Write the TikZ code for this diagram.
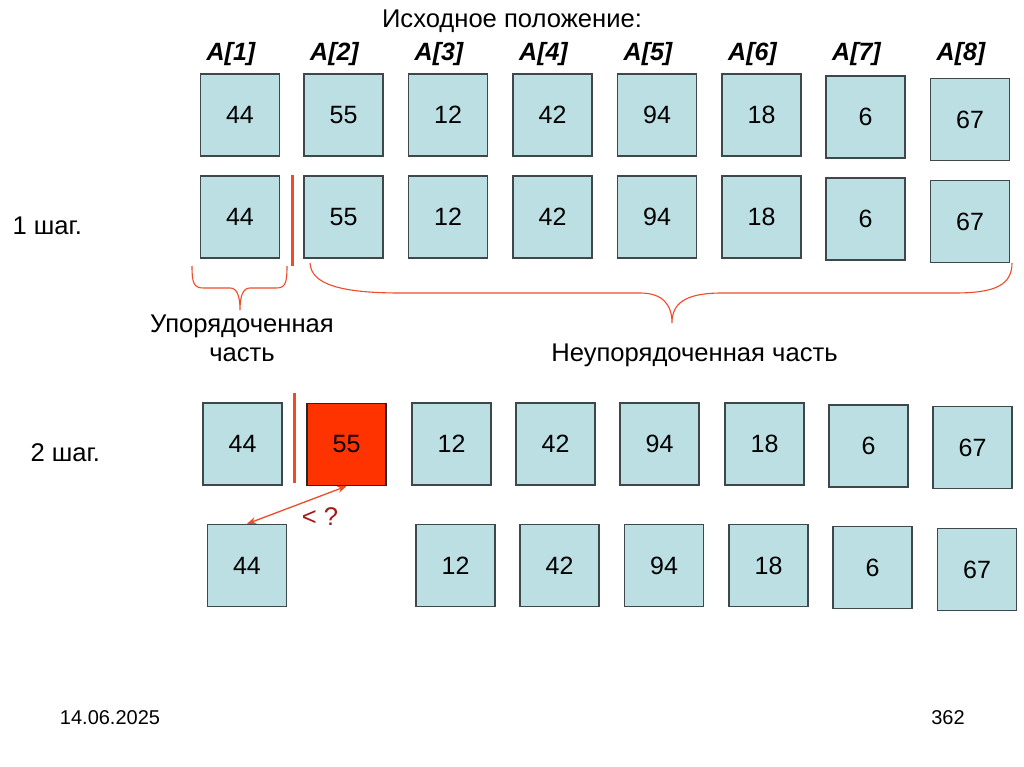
\documentclass[tikz,border=0pt]{standalone}
\usepackage{fontspec}
\setmainfont{Liberation Sans}
\usepackage{tikz}
\usetikzlibrary{positioning, arrows.meta}
\usepackage{xcolor}

\definecolor{cellblue}{RGB}{187,223,227}
\definecolor{cellline}{RGB}{62,72,74}
\definecolor{markred}{RGB}{240,75,40}
\definecolor{hotred}{RGB}{255,51,0}
\definecolor{qred}{RGB}{165,25,25}

\begin{document}
\begin{tikzpicture}[x=1pt, y=-1pt,
      cell/.style={draw=cellline, fill=cellblue, line width=1.4pt,
          minimum width=79pt, minimum height=82pt, inner sep=0pt,
          font=\fontsize{25}{30}\selectfont, text centered},
      idx/.style={font=\fontsize{25}{30}\selectfont\bfseries\itshape},
      txt/.style={font=\fontsize{25.6}{30}\selectfont},
      brc/.style={draw=markred, line width=1.1pt},
      sep/.style={draw=markred, line width=3pt},
    ]
    \useasboundingbox (0,0) rectangle (1024,767);

    % Header
    \node[txt] (hdr) at (512, 21) {Исходное положение:};

    % Initial array with indices
    \foreach \i/\x/\y/\val in {
      1/240/115/44, 2/343.5/115/55, 3/448/115/12, 4/552.5/115/42,
      5/657/115/94, 6/761.5/115/18, 7/865.5/117/6, 8/970/119.5/67}{
      \node[cell] (A\i) at (\x,\y) {\val};
      % index above
      \node[idx] (L\i) at ({\x-9}, 54) {A[\i]};
      }

    % Step 1
    \node[txt, anchor=west] (st1) at (9, 226) {1 шаг.};
    \foreach \i/\x/\y/\val in {
      1/240/217/44, 2/343.5/217/55, 3/448/217/12, 4/552.5/217/42,
      5/657/217/94, 6/761.5/217/18, 7/865.5/219/6, 8/970/221.5/67}{
      \node[cell] (S\i) at (\x,\y) {\val};
      }
    \draw[sep] (292, 175) -- (292, 266);

    % Braces under step 1
    \draw[brc] (192, 266) .. controls (192, 284) and (194, 288) .. (204, 288)
      -- (230, 288) .. controls (237, 288) and (240, 296) .. (240, 310)
      .. controls (240, 296) and (243, 288) .. (250, 288)
      -- (276, 288) .. controls (285, 288) and (287, 284) .. (287, 266);
    \draw[brc] (310, 263) .. controls (311, 284) and (340, 293) .. (400, 293)
      -- (640, 293) .. controls (662, 293) and (672, 304) .. (672, 323)
      .. controls (672, 304) and (684, 293) .. (722, 293)
      -- (955, 293) .. controls (995, 293) and (1012, 285) .. (1012, 263);
    \node[txt] (ord1) at (242, 326) {Упорядоченная};
    \node[txt] (ord2) at (242, 355) {часть};
    \node[txt] (unord) at (694.5, 355) {Неупорядоченная часть};

    % Step 2
    \node[txt, anchor=west] (st2) at (27, 453) {2 шаг.};
    \foreach \i/\x/\y/\val in {
      1/242.5/444/44, 3/451.5/444/12, 4/555.5/444/42, 5/659.5/444/94,
      6/764.5/444/18, 7/868.5/446/6, 8/972.5/447.5/67}{
      \node[cell] (P\i) at (\x,\y) {\val};
      }
    \node[cell, fill=hotred, draw=black!85] (P2) at (346.5, 444.5) {55};
    \draw[sep] (294, 393) -- (294, 483);

    % Row after comparison
    \foreach \i/\x/\y/\val in {
      1/247/565.5/44, 3/455.5/565.5/12, 4/559.5/565.5/42, 5/664/565.5/94,
      6/768.5/565.5/18, 7/872.5/567.5/6, 8/977/569.5/67}{
      \node[cell] (C\i) at (\x,\y) {\val};
      }
    \draw[markred, line width=1.3pt,
      {Stealth[length=9pt, width=7pt]}-{Stealth[length=9pt, width=7pt]}]
      (P2.south) -- (C1.north);
    \node[txt, qred] (cmp) at (320, 517) {< ?};

    % Footer
    \node[font=\fontsize{20}{24}\selectfont] (date) at (110, 718) {14.06.2025};
    \node[font=\fontsize{20}{24}\selectfont] (page) at (948, 718) {362};
  \end{tikzpicture}
\end{document}
